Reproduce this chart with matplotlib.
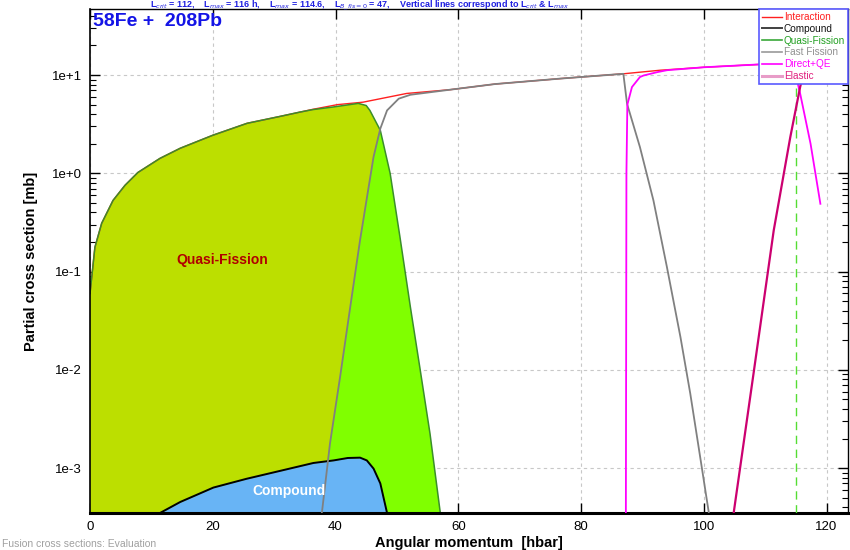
import numpy as np
import matplotlib
matplotlib.use("Agg")
import matplotlib.pyplot as plt
from matplotlib.patches import Polygon
from matplotlib.lines import Line2D
from matplotlib.ticker import LogLocator, FixedLocator, NullFormatter

plt.rcParams['font.family'] = ['Liberation Sans', 'DejaVu Sans']

# ---- partial cross sections (mb) versus angular momentum L (hbar) ----
L_int = [0, 0.8, 1.9, 3.75, 5.7, 7.8, 11.4, 14.7, 20, 25.6, 31, 36.3, 40.3, 44.5,
         51.6, 58.7, 66, 76.6, 86.9, 92.9, 100, 108.7, 115, 119]
sig_int = [0.060, 0.177, 0.31, 0.53, 0.755, 1.02, 1.42, 1.80, 2.44, 3.23, 3.80, 4.48,
           5.0, 5.3, 6.5, 7.1, 8.1, 9.2, 10.3, 11.2, 12.0, 12.8, 13.3, 13.6]

L_qf = [0, 0.8, 1.9, 3.75, 5.7, 7.8, 11.4, 14.7, 20, 25.6, 31, 34.2, 36.3, 39.6,
        43.7, 45.0, 45.6, 47.3, 48.9, 50.5, 52.2, 53.8, 55.4, 57.05, 58]
sig_qf = [0.060, 0.177, 0.31, 0.53, 0.755, 1.02, 1.42, 1.80, 2.44, 3.23, 3.80, 4.2,
          4.45, 4.73, 5.15, 4.9, 4.37, 2.74, 1.0, 0.225, 0.0436, 0.010, 2.24e-3,
          3.6e-4, 2e-4]

L_cn = [10.5, 11.4, 14.7, 20.1, 25.5, 31, 36.4, 39.7, 42, 44, 45.1, 46.2, 47.3,
        48.4, 49]
sig_cn = [2.5e-4, 3.5e-4, 4.53e-4, 6.35e-4, 7.8e-4, 9.4e-4, 1.13e-3, 1.2e-3,
          1.27e-3, 1.28e-3, 1.2e-3, 9.9e-4, 7.0e-4, 3.5e-4, 2e-4]

L_ff = [37.0, 37.8, 39.1, 40.75, 42.4, 44.0, 45.4, 46.2, 47.3, 48.4, 50.3, 52.2,
        58.7, 66, 76.6, 86.9, 87.5, 89.6, 91.8, 94.0, 96.2, 97.8, 99.5, 100.8, 101.5]
sig_ff = [2e-4, 3.6e-4, 1.78e-3, 8.5e-3, 0.0436, 0.209, 0.726, 1.47, 2.85, 4.37,
          5.75, 6.3, 7.1, 8.1, 9.2, 10.3, 5.1, 1.85, 0.53, 0.111, 0.0216, 5.75e-3,
          1.2e-3, 3.6e-4, 2e-4]

L_dqe = [87.3, 87.35, 87.4, 87.55, 88.3, 89.6, 90.2, 92.4, 94, 100, 108.7, 112.5,
         114.2, 115.2, 115.7, 117.4, 119]
sig_dqe = [2e-4, 0.01, 1.0, 5.0, 7.55, 9.55, 9.9, 10.7, 11.2, 12.0, 12.8, 13.0,
           11.5, 8.8, 6.5, 2.0, 0.49]

L_el = [104.5, 104.9, 108.1, 111.4, 114.1, 115.7, 116.5]
sig_el = [2e-4, 3.6e-4, 9.1e-3, 0.263, 2.34, 7.55, 12.0]

L_vert = [115.0]

y_ticks = [1e-3, 1e-2, 1e-1, 1e0, 1e1]
y_tick_labels = ["1e-3", "1e-2", "1e-1", "1e+0", "1e+1"]
x_ticks = [0, 20, 40, 60, 80, 100, 120]

# ---- figure ----
fig = plt.figure(figsize=(8.5, 5.5), dpi=100)
ax = fig.add_axes([90 / 850, 1 - 513 / 550, 758 / 850, 504 / 550])
ax.set_yscale('log')
ax.set_xlim(0, 123.5)
ax.set_ylim(3.5e-4, 47)

floor = 1e-6

# quasi-fission area: bright green beneath the fast-fission curve, olive above it
ax.fill_between(L_qf, floor, sig_qf, color='#80ff00', lw=0, zorder=1)
olive = ax.fill_between(L_qf, floor, sig_qf, color='#bcdf00', lw=0, zorder=1.1)
ff_rise = [(l, s) for l, s in zip(L_ff, sig_ff) if l <= 52.2]
clip_pts = [(-20, floor)] + ff_rise + [(ff_rise[-1][0], 1e4), (-20, 1e4)]
clip = Polygon(clip_pts, closed=True, transform=ax.transData)
olive.set_clip_path(clip)

# interaction sits beneath the other curves
ax.plot(L_int, sig_int, color='#ff2020', lw=1.0, zorder=1.5)
ax.plot(L_qf, sig_qf, color='#3a8f2a', lw=1.1, zorder=2)

# compound nucleus area
ax.fill_between(L_cn, floor, sig_cn, color='#68b4f5', lw=0, zorder=2.5)
ax.plot(L_cn, sig_cn, color='black', lw=1.4, zorder=2.6)

# other curves
ax.plot(L_ff, sig_ff, color='#808080', lw=1.3, zorder=3.2)
ax.plot(L_dqe, sig_dqe, color='#ff00ff', lw=1.3, zorder=3.4)
ax.plot(L_el, sig_el, color='#cc0070', lw=1.6, zorder=3.5)
for lv in L_vert:
    ax.axvline(lv, color='#55dd33', lw=1.0, ls=(0, (6, 4)), zorder=3.1)

# grid, ticks, spines
ax.grid(True, which='major', color='#c8c8c8', ls=(0, (3, 3)), lw=0.8, zorder=0)
ax.set_axisbelow(True)
ax.xaxis.set_major_locator(FixedLocator(x_ticks))
ax.set_xticklabels([str(v) for v in x_ticks])
ax.set_yticks(y_ticks)
ax.set_yticklabels(y_tick_labels)
ax.yaxis.set_minor_locator(LogLocator(base=10, subs=np.arange(2, 10), numticks=20))
ax.yaxis.set_minor_formatter(NullFormatter())
ax.tick_params(which='major', direction='in', length=7, width=1.0,
               top=True, right=True, labelsize=9.5, pad=6)
ax.tick_params(which='minor', direction='in', length=4, width=0.8,
               top=False, right=True)
ax.tick_params(axis='x', which='minor', bottom=False, top=False)
ax.spines['bottom'].set_linewidth(2.2)
ax.spines['left'].set_linewidth(1.2)
ax.spines['top'].set_linewidth(1.0)
ax.spines['right'].set_linewidth(1.0)

ax.set_xlabel("Angular momentum  [hbar]", fontsize=10.5, fontweight='bold', labelpad=2)
ax.set_ylabel("Partial cross section [mb]", fontsize=10.5, fontweight='bold', labelpad=10)

# annotations
ax.text(0.004, 0.992, "58Fe +  208Pb", transform=ax.transAxes, ha='left', va='top',
        fontsize=14, fontweight='bold', color='#1414e6', zorder=6)
ax.text(21.5, 0.13, "Quasi-Fission", ha='center', va='center', fontsize=10,
        fontweight='bold', color='#b00000', zorder=6)
ax.text(32.4, 5.8e-4, "Compound", ha='center', va='center', fontsize=10,
        fontweight='bold', color='white', zorder=6)

# header line above the plot
fig.text(150 / 850, 1 - 8 / 550,
         r"L$_{crit}$ = 112,    L$_{max}$ = 116 h,    L$_{max}$ = 114.6,    "
         r"L$_{B\_fis=0}$ = 47,    Vertical lines correspond to L$_{crit}$ & L$_{max}$",
         ha='left', va='baseline', fontsize=6.5, fontweight='bold', color='#2020e0')
# footer line below the plot
fig.text(2 / 850, 1 / 550, "Fusion cross sections: Evaluation",
         ha='left', va='bottom', fontsize=7.5, color='#a0a0a0')

# legend
handles = [
    Line2D([], [], color='#ff2020', lw=1.0),
    Line2D([], [], color='#404040', lw=1.4),
    Line2D([], [], color='#3aa83a', lw=1.2),
    Line2D([], [], color='#999999', lw=1.2),
    Line2D([], [], color='#ff00ff', lw=1.2),
    Line2D([], [], color='#e89cc8', lw=2.2),
]
labels = ["Interaction", "Compound", "Quasi-Fission", "Fast Fission", "Direct+QE", "Elastic"]
text_colors = ['#ff2020', '#111111', '#22a022', '#909090', '#ff00ff', '#e0207f']
leg = ax.legend(handles, labels, loc='upper right', bbox_to_anchor=(1.0, 1.0),
                fontsize=7.2, frameon=True, fancybox=False, handlelength=2.0,
                handletextpad=0.2, labelspacing=0.18, borderpad=0.3,
                borderaxespad=0.0, framealpha=1.0)
leg.get_frame().set_edgecolor('#5a5aff')
leg.get_frame().set_linewidth(1.2)
for t, c in zip(leg.get_texts(), text_colors):
    t.set_color(c)
leg.set_zorder(10)

fig.savefig("out.png", dpi=100)
